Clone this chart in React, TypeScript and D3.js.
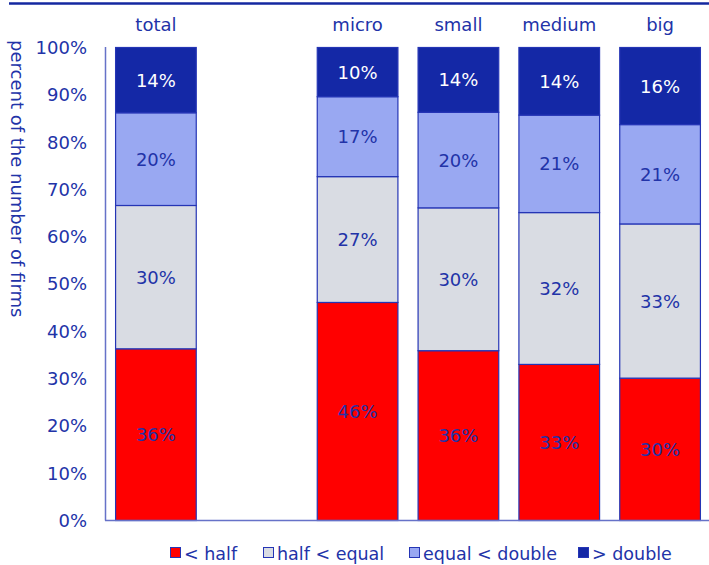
import React from "react";
import * as d3 from "d3";

const categories = ["total", "", "micro", "small", "medium", "big"];
const seriesNames = ["< half", "half < equal", "equal < double", "> double"];
const lessHalf = [36.3, null, 46.1, 35.9, 33.0, 30.1];
const halfEqual = [30.3, null, 26.6, 30.2, 32.1, 32.6];
const equalDouble = [19.6, null, 16.9, 20.2, 20.6, 21.0];
const overDouble = [13.8, null, 10.4, 13.7, 14.3, 16.3];
const yTicks = [0, 10, 20, 30, 40, 50, 60, 70, 80, 90, 100];

const W = 709;
const H = 565;
const FONT = "'DejaVu Sans', Verdana, sans-serif";
const TEXT = "#2233a8";
const AXIS = "#6672c8";
const fills = ["#ff0000", "#d9dce3", "#99a8f2", "#1428a6"];
const labelColors = [TEXT, TEXT, TEXT, "#ffffff"];
const legendX = [170, 263, 409, 578];

export default function App() {
  const keys = categories.map((c, i) => c || `_${i}`);
  const x = d3.scaleBand<string>().domain(keys).range([105.5, 710.5]).paddingInner(0.2).paddingOuter(0.1);
  const y = d3.scaleLinear().domain([0, 100]).range([520.5, 47.5]);
  const series = [lessHalf, halfEqual, equalDouble, overDouble];
  const rows = categories.map((c, i) => {
    const r: any = { key: keys[i] };
    seriesNames.forEach((s, j) => (r[s] = series[j][i] ?? 0));
    return r;
  });
  const stack = d3.stack<any>().keys(seriesNames)(rows);

  return (
    <svg width={W} height={H} style={{ position: "absolute", left: 0, top: 0 }} fontFamily={FONT}>
      <rect width={W} height={H} fill="#fff" />
      <line x1={9} x2={709} y1={3.5} y2={3.5} stroke="#1428a0" strokeWidth={2.5} />
      {/* y title */}
      <text transform={`translate(11,${40}) rotate(90)`} fontSize={18} fill={TEXT} textAnchor="start">
        percent of the number of firms
      </text>
      {/* y tick labels */}
      {yTicks.map((t) => (
        <text key={t} x={87} y={y(t)} dy="0.36em" fontSize={18} fill={TEXT} textAnchor="end">
          {t}%
        </text>
      ))}
      {/* category labels */}
      {categories.map((c, i) =>
        c ? (
          <text key={c} x={(x(keys[i]) ?? 0) + x.bandwidth() / 2} y={31} fontSize={18} fill={TEXT} textAnchor="middle">
            {c}
          </text>
        ) : null
      )}
      {/* bars */}
      {stack.map((layer, j) => (
        <g key={layer.key}>
          {layer.map((d, i) => {
            if (series[j][i] == null) return null;
            const x0 = x(keys[i]) ?? 0;
            const y0 = y(d[1]);
            const y1 = y(d[0]);
            return (
              <g key={i}>
                <rect x={x0} y={y0} width={x.bandwidth()} height={y1 - y0} fill={fills[j]} stroke="#2535b5" strokeWidth={1.2} />
                <text x={x0 + x.bandwidth() / 2} y={(y0 + y1) / 2} dy="0.36em" fontSize={18} fill={labelColors[j]} textAnchor="middle">
                  {Math.round(series[j][i] as number)}%
                </text>
              </g>
            );
          })}
        </g>
      ))}
      {/* axes */}
      <line x1={105.5} x2={105.5} y1={47} y2={520.5} stroke={AXIS} strokeWidth={1.5} />
      <line x1={105} x2={709} y1={520.5} y2={520.5} stroke={AXIS} strokeWidth={1.5} />
      {/* legend */}
      {seriesNames.map((s, j) => (
        <g key={s}>
          <rect x={legendX[j] + 0.5} y={547.5} width={10} height={10} fill={fills[j]} stroke="#2535b5" strokeWidth={1} />
          <text x={legendX[j] + 14} y={560} fontSize={17.5} fill={TEXT}>
            {s}
          </text>
        </g>
      ))}
    </svg>
  );
}
